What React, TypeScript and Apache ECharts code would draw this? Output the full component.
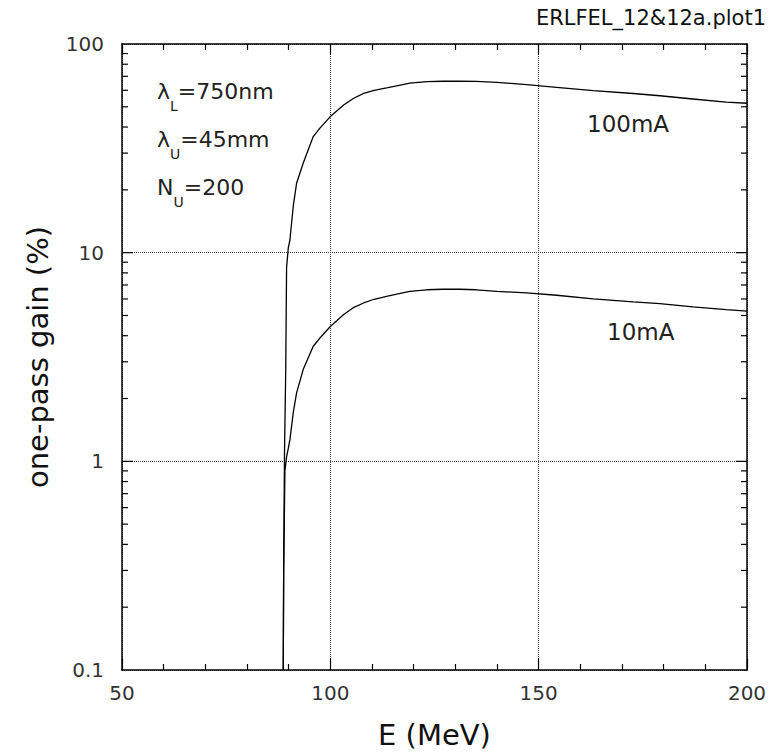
import React, { useEffect, useRef } from "react";
import * as echarts from "echarts";

const X_MIN = 50;
const X_MAX = 200;
const X_INTERVAL = 50;
const Y_MIN = 0.1;
const Y_MAX = 100;

const E_100MA = [88.7, 88.8, 89.0, 89.3, 89.5, 89.9, 90.3, 91.1, 91.9, 93.5, 95.9, 97.5, 100, 103.2, 105.5, 108, 110.5, 113.5, 116.5, 119.1, 123.1, 127, 131, 135, 140, 147.1, 154.3, 163.1, 172.7, 179.1, 187, 195, 200];
const G_100MA = [0.1, 0.3, 1.1, 2.8, 8.5, 10.5, 11.5, 16.7, 21.5, 26.9, 36, 39.5, 44.9, 51, 54.8, 58, 60, 61.6, 63.4, 64.9, 66, 66.3, 66.3, 66.2, 65.5, 63.9, 62, 59.8, 57.9, 56.5, 54.5, 52.6, 52];

const E_10MA = [88.7, 88.8, 89.1, 89.5, 89.9, 90.3, 91.1, 91.9, 93.5, 95.9, 97.5, 100, 103.2, 105.5, 108, 110.5, 113.5, 116.5, 119.1, 123.1, 127, 131, 135, 140, 147.1, 154.3, 163.1, 172.7, 179.1, 187, 195, 200];
const G_10MA = [0.1, 0.3, 0.9, 1.05, 1.15, 1.27, 1.71, 2.13, 2.76, 3.56, 3.9, 4.43, 5.05, 5.45, 5.74, 5.98, 6.18, 6.36, 6.53, 6.64, 6.68, 6.68, 6.64, 6.53, 6.41, 6.25, 6.0, 5.81, 5.7, 5.5, 5.33, 5.25];

const Y_MINOR_TICKS = [0.2, 0.3, 0.4, 0.5, 0.6, 0.7, 0.8, 0.9, 2, 3, 4, 5, 6, 7, 8, 9, 20, 30, 40, 50, 60, 70, 80, 90];
const Y_MAJOR_TICKS = [1, 10];

const TITLE = "ERLFEL_12&12a.plot1";
const LABEL_100 = "100mA";
const LABEL_10 = "10mA";
const PARAMS = [
  ["λ", "L", "=750nm"],
  ["λ", "U", "=45mm"],
  ["N", "U", "=200"],
];
const FONT = "DejaVu Sans";

export default function App() {
  const ref = useRef<HTMLDivElement>(null);
  useEffect(() => {
    document.body.style.margin = "0";
    if (!ref.current) return;
    const chart = echarts.init(ref.current, null, { renderer: "svg" });
    const tickData = [
      ...Y_MINOR_TICKS.map((v) => [X_MIN, v, 6]),
      ...Y_MAJOR_TICKS.map((v) => [X_MIN, v, 11]),
    ];
    const fmtY = (v: number) => String(parseFloat(Number(v).toPrecision(3)));
    const baseX = {
      type: "value",
      min: X_MIN,
      max: X_MAX,
      interval: X_INTERVAL,
      axisLine: { show: true, onZero: false, lineStyle: { color: "#000", width: 1.5 } },
      axisTick: { show: true, inside: true, length: 11, lineStyle: { color: "#000", width: 1.2 } },
      minorTick: { show: true, splitNumber: 5, length: 6, lineStyle: { color: "#000", width: 1.2 } },
    };
    const rowY = [91, 139, 187];
    const option: any = {
      animation: false,
      backgroundColor: "#fff",
      textStyle: { fontFamily: FONT },
      grid: { left: 122, right: 29, top: 44, bottom: 83, containLabel: false },
      xAxis: [
        {
          ...baseX,
          position: "bottom",
          name: "E (MeV)",
          nameLocation: "middle",
          nameGap: 50,
          nameTextStyle: { fontSize: 29, color: "#111", fontFamily: FONT },
          axisLabel: { fontSize: 20, color: "#333", margin: 13, fontFamily: FONT },
          splitLine: { show: true, lineStyle: { type: "dotted", color: "#444", width: 1 } },
        },
        {
          ...baseX,
          position: "top",
          axisLabel: { show: false },
          splitLine: { show: false },
        },
      ],
      yAxis: [
        {
          type: "log",
          logBase: 10,
          min: Y_MIN,
          max: Y_MAX,
          position: "left",
          name: "one-pass gain (%)",
          nameLocation: "middle",
          nameGap: 70,
          nameRotate: 90,
          nameTextStyle: { fontSize: 29, color: "#111", fontFamily: FONT },
          axisLine: { show: true, onZero: false, lineStyle: { color: "#000", width: 1.5 } },
          axisTick: { show: false },
          axisLabel: { fontSize: 20, color: "#333", margin: 18, fontFamily: FONT, formatter: fmtY },
          splitLine: { show: true, lineStyle: { type: "dotted", color: "#444", width: 1 } },
        },
        {
          type: "log",
          logBase: 10,
          min: Y_MIN,
          max: Y_MAX,
          position: "right",
          axisLine: { show: true, onZero: false, lineStyle: { color: "#000", width: 1.5 } },
          axisTick: { show: false },
          axisLabel: { show: false },
          splitLine: { show: false },
        },
      ],
      series: [
        {
          type: "line",
          name: LABEL_100,
          data: E_100MA.map((e, i) => [e, G_100MA[i]]),
          showSymbol: false,
          symbol: "none",
          lineStyle: { color: "#000", width: 1.3 },
          clip: true,
        },
        {
          type: "line",
          name: LABEL_10,
          data: E_10MA.map((e, i) => [e, G_10MA[i]]),
          showSymbol: false,
          symbol: "none",
          lineStyle: { color: "#000", width: 1.3 },
          clip: true,
        },
        {
          type: "custom",
          data: tickData,
          silent: true,
          renderItem: (params: any, api: any) => {
            const v = api.value(1);
            const len = api.value(2);
            const pl = api.coord([X_MIN, v]);
            const pr = api.coord([X_MAX, v]);
            const st = { stroke: "#000", lineWidth: 1.2 };
            return {
              type: "group",
              children: [
                { type: "line", shape: { x1: pl[0], y1: pl[1], x2: pl[0] + len, y2: pl[1] }, style: st },
                { type: "line", shape: { x1: pr[0], y1: pr[1], x2: pr[0] - len, y2: pr[1] }, style: st },
              ],
            };
          },
        },
      ],
      graphic: [
        {
          type: "text",
          x: 766,
          y: 18,
          style: { text: TITLE, fontSize: 21, fill: "#111", fontFamily: FONT, textAlign: "right", textVerticalAlign: "middle" },
        },
        {
          type: "text",
          x: 587,
          y: 124,
          style: { text: LABEL_100, fontSize: 23, fill: "#222", fontFamily: FONT, textAlign: "left", textVerticalAlign: "middle" },
        },
        {
          type: "text",
          x: 607,
          y: 332,
          style: { text: LABEL_10, fontSize: 23, fill: "#222", fontFamily: FONT, textAlign: "left", textVerticalAlign: "middle" },
        },
        ...PARAMS.map((r, i) => ({
          type: "text",
          x: 157,
          y: rowY[i],
          style: {
            text: `{m|${r[0]}}{s|${r[1]}}{m|${r[2]}}`,
            textVerticalAlign: "middle",
            fontFamily: FONT,
            fontSize: 22,
            rich: {
              m: { fontSize: 22, fill: "#222", fontFamily: FONT },
              s: { fontSize: 14, fill: "#222", fontFamily: FONT, padding: [30, 0, 0, 0] },
            },
          },
        })),
      ],
    };
    chart.setOption(option);
    return () => chart.dispose();
  }, []);
  return <div ref={ref} style={{ width: 776, height: 754 }} />;
}
